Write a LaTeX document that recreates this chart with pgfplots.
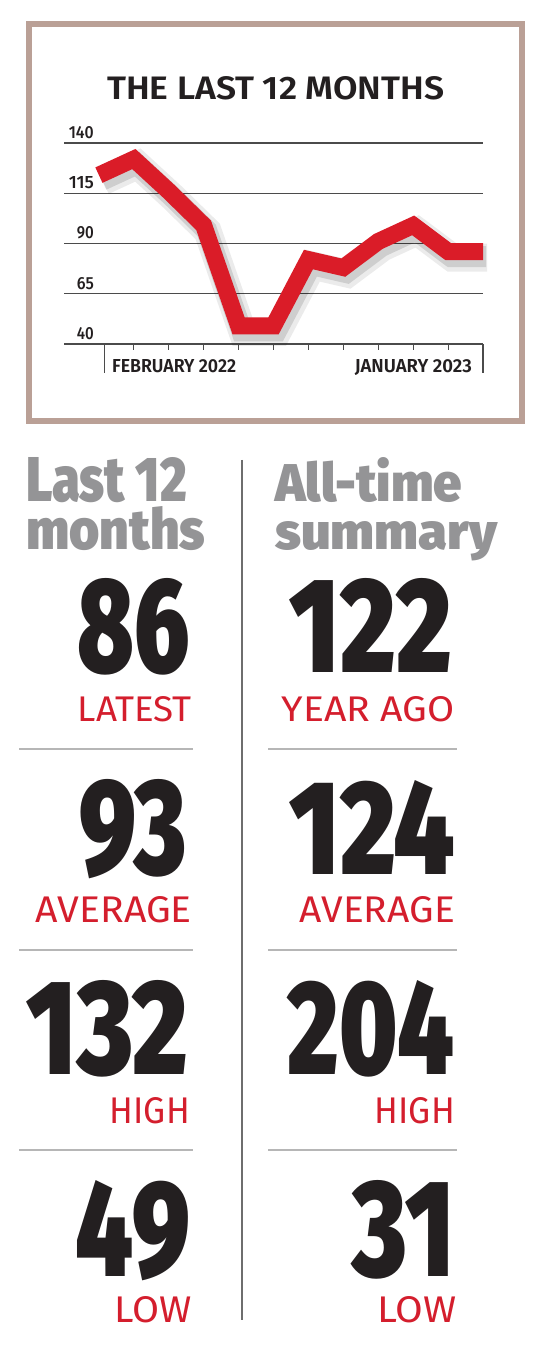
\documentclass[border=0pt]{standalone}
\usepackage{pgfplots}
\pgfplotsset{compat=1.18}
\usepackage{pgfplotstable}
\usepackage{graphicx}
\usepackage{fontspec}
\setmainfont{Fira Sans}
\newfontfamily\fblack{Fira Sans Black}
\newfontfamily\fsemi{Fira Sans SemiBold}
\newfontfamily\fmed{Fira Sans Medium}

\definecolor{lred}{RGB}{218,28,40}
\definecolor{tred}{RGB}{212,30,45}
\definecolor{hgrey}{RGB}{148,148,150}
\definecolor{numblack}{RGB}{35,31,32}
\definecolor{framec}{RGB}{186,160,150}
\definecolor{gridc}{RGB}{75,75,75}
\definecolor{sepc}{RGB}{182,182,182}
\definecolor{vsep}{RGB}{110,110,110}

% index of month (0 = Jan 2022 ... 11 = Jan 2023), value
\pgfplotstableread{
m v
0 124
1 132
2 116
3 99
4 49
5 49
6 82
7 78
8 91
9 99
10 86
11 86
}\lastyear

% width and height of a piece of text, in px of the picture
\newcommand{\fit}[3]{\resizebox{#1bp}{#2bp}{#3}}
\newcommand{\ytl}[2]{\fit{#1}{12}{\fmed #2}}

\begin{document}
\begin{tikzpicture}[x=1bp,y=1bp]
\useasboundingbox (0,0) rectangle (550,1356);
\fill[white] (0,0) rectangle (550,1356);

% frame round the chart
\draw[framec, line width=6bp] (29,1331.5) rectangle (522,935);

\node[anchor=base west, inner sep=0pt, text=numblack]
  at (107,1256) {\fit{337}{23}{\fsemi THE LAST 12 MONTHS}};

\begin{axis}[
    at={(64bp,1012bp)}, anchor=south west,
    scale only axis, width=419bp, height=201bp,
    xmin=-1, xmax=11, ymin=40, ymax=140,
    axis line style={draw=none},
    clip=false,
    ytick={40,65,90,115,140},
    yticklabels={\ytl{17}{40},\ytl{17}{65},\ytl{17}{90},\ytl{25}{115},\ytl{25}{140}},
    ymajorgrids,
    grid style={draw=gridc, line width=1.2bp},
    ytick style={draw=none},
    ytick pos=left,
    yticklabel style={anchor=base east, inner sep=0pt, xshift=36bp, yshift=4.5bp, text=numblack},
    xtick={1,...,10},
    xticklabels={},
    xtick pos=bottom,
    tick align=outside,
    major tick length=6bp,
    xtick style={draw=gridc, line width=1.1bp},
    extra x ticks={0.15,11},
    extra x tick labels={},
    extra x tick style={major tick length=29bp, grid=none},
]
\addplot[draw=black, opacity=0.08, line width=28bp, line join=miter,
         xshift=4bp, yshift=-6bp, forget plot] table[x=m, y=v] {\lastyear};
\addplot[draw=black, opacity=0.12, line width=21bp, line join=miter,
         xshift=3bp, yshift=-5bp, forget plot] table[x=m, y=v] {\lastyear};
\addplot[draw=lred, line width=17bp, line join=miter, line cap=butt, mark=none]
         table[x=m, y=v] {\lastyear};
\end{axis}

\node[anchor=base west, inner sep=0pt, text=numblack]
  at (112,983) {\fit{124}{13}{\fsemi FEBRUARY 2022}};
\node[anchor=base east, inner sep=0pt, text=numblack]
  at (472,983) {\fit{117}{13}{\fsemi JANUARY 2023}};

% headings
\node[anchor=base west, inner sep=0pt, text=hgrey] at (26,854) {\fit{161}{44}{\fblack Last 12}};
\node[anchor=base west, inner sep=0pt, text=hgrey] at (26,806) {\fit{179}{43}{\fblack months}};
\node[anchor=base west, inner sep=0pt, text=hgrey] at (275,854) {\fit{187}{44}{\fblack All-time}};
\node[anchor=base west, inner sep=0pt, text=hgrey] at (275,806) {\fit{222}{28}{\fblack summary}};

% dividing lines
\draw[vsep, line width=1.5bp] (242,896) -- (242,36);
\foreach \yy in {607,406,206} {
  \draw[sepc, line width=1.5bp] (19,\yy) -- (193,\yy);
  \draw[sepc, line width=1.5bp] (268,\yy) -- (457,\yy);
}

% figures, left column
\node[anchor=base east, inner sep=0pt, text=numblack] at (190,683) {\fit{112}{94}{\fblack 86}};
\node[anchor=base east, inner sep=0pt, text=tred] at (192,634) {\fit{114}{25}{LATEST}};
\node[anchor=base east, inner sep=0pt, text=numblack] at (187,481) {\fit{107}{95}{\fblack 93}};
\node[anchor=base east, inner sep=0pt, text=tred] at (192,433) {\fit{156}{26}{AVERAGE}};
\node[anchor=base east, inner sep=0pt, text=numblack] at (188,281) {\fit{161}{94}{\fblack 132}};
\node[anchor=base east, inner sep=0pt, text=tred] at (190,232) {\fit{80}{26}{HIGH}};
\node[anchor=base east, inner sep=0pt, text=numblack] at (190,79) {\fit{114}{96}{\fblack 49}};
\node[anchor=base east, inner sep=0pt, text=tred] at (192,33) {\fit{77}{26}{LOW}};

% figures, right column
\node[anchor=base east, inner sep=0pt, text=numblack] at (452,683) {\fit{162}{94}{\fblack 122}};
\node[anchor=base east, inner sep=0pt, text=tred] at (455,634) {\fit{173}{25}{YEAR AGO}};
\node[anchor=base east, inner sep=0pt, text=numblack] at (455,481) {\fit{165}{94}{\fblack 124}};
\node[anchor=base east, inner sep=0pt, text=tred] at (455,433) {\fit{155}{26}{AVERAGE}};
\node[anchor=base east, inner sep=0pt, text=numblack] at (455,281) {\fit{167}{94}{\fblack 204}};
\node[anchor=base east, inner sep=0pt, text=tred] at (455,232) {\fit{80}{26}{HIGH}};
\node[anchor=base east, inner sep=0pt, text=numblack] at (455,79) {\fit{102}{96}{\fblack 31}};
\node[anchor=base east, inner sep=0pt, text=tred] at (457,33) {\fit{79}{26}{LOW}};
\end{tikzpicture}
\end{document}
